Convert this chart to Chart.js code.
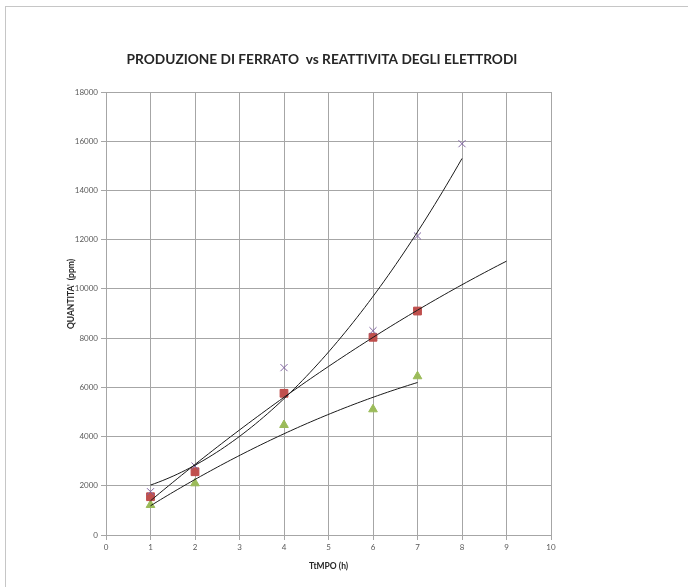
<!DOCTYPE html>
<html><head><meta charset="utf-8">
<script src="https://cdn.jsdelivr.net/npm/chart.js@4/dist/chart.umd.min.js"></script>
<style>
html,body{margin:0;padding:0;background:#fff;}
#wrap{position:relative;width:688px;height:587px;overflow:hidden;}
#frame{position:absolute;left:5px;top:6px;width:700px;height:600px;border:1px solid #c6c6c6;box-sizing:border-box;}
canvas{position:absolute;left:0;top:0;}
</style></head><body>
<div id="wrap"><div id="frame"></div><canvas id="c" width="688" height="587"></canvas></div>
<script>
// ---- data ----
const crossTimes = [1, 2, 4, 6, 7, 8];
const crossValues = [1760, 2800, 6800, 8300, 12150, 15900];
const squareTimes = [1, 2, 4, 6, 7];
const squareValues = [1556, 2570, 5757, 8033, 9100];
const triangleTimes = [1, 2, 4, 6, 7];
const triangleValues = [1220, 2100, 4470, 5107, 6450];
// trendline (2nd order polynomial) ranges
const crossTrendRange = [1, 8];
const squareTrendRange = [1, 9];
const triangleTrendRange = [1, 7];
const xTickValues = [0, 1, 2, 3, 4, 5, 6, 7, 8, 9, 10];
const yTickValues = [0, 2000, 4000, 6000, 8000, 10000, 12000, 14000, 16000, 18000];
const chartTitle = 'PRODUZIONE DI FERRATO  vs REATTIVITA DEGLI ELETTRODI';
const xTitle = 'TtMPO (h)';
const yTitle = "QUANTITA'  (ppm)";

// least-squares quadratic fit (Excel polynomial trendline)
function polyFit2(xs, ys) {
  let n = xs.length, s1 = 0, s2 = 0, s3 = 0, s4 = 0, t0 = 0, t1 = 0, t2 = 0;
  for (let i = 0; i < n; i++) {
    const x = xs[i], y = ys[i];
    s1 += x; s2 += x * x; s3 += x * x * x; s4 += x * x * x * x;
    t0 += y; t1 += x * y; t2 += x * x * y;
  }
  const M = [[n, s1, s2, t0], [s1, s2, s3, t1], [s2, s3, s4, t2]];
  for (let c = 0; c < 3; c++) {
    for (let r = c + 1; r < 3; r++) {
      const f = M[r][c] / M[c][c];
      for (let k = c; k < 4; k++) M[r][k] -= f * M[c][k];
    }
  }
  const coef = [0, 0, 0];
  for (let r = 2; r >= 0; r--) {
    let s = M[r][3];
    for (let k = r + 1; k < 3; k++) s -= M[r][k] * coef[k];
    coef[r] = s / M[r][r];
  }
  return coef;
}
function trendPoints(xs, ys, range) {
  const c = polyFit2(xs, ys);
  const pts = [];
  const steps = 80;
  for (let i = 0; i <= steps; i++) {
    const x = range[0] + (range[1] - range[0]) * i / steps;
    pts.push({x: x, y: c[0] + c[1] * x + c[2] * x * x});
  }
  return pts;
}
const toPts = (xs, ys) => xs.map((x, i) => ({x: x, y: ys[i]}));

const FONT = 'Lato, Carlito, Calibri, "Open Sans", sans-serif';

const textPlugin = {
  id: 'texts',
  afterDraw(chart) {
    const {ctx, chartArea} = chart;
    ctx.save();
    ctx.fillStyle = '#262626';
    ctx.textAlign = 'center';
    ctx.textBaseline = 'middle';
    ctx.font = 'bold 13.7px ' + FONT;
    ctx.fillText(chartTitle, 322, 60);
    ctx.translate(71, chartArea.top + chartArea.height * 0.456);
    ctx.rotate(-Math.PI / 2);
    ctx.font = 'bold 8.5px ' + FONT;
    ctx.fillText(yTitle, 0, 0);
    ctx.restore();
  }
};

new Chart(document.getElementById('c'), {
  type: 'scatter',
  data: {
    datasets: [
      {data: trendPoints(crossTimes, crossValues, crossTrendRange), showLine: true, borderColor: '#1a1a1a', borderWidth: 1, pointRadius: 0, fill: false},
      {data: trendPoints(squareTimes, squareValues, squareTrendRange), showLine: true, borderColor: '#1a1a1a', borderWidth: 1, pointRadius: 0, fill: false},
      {data: trendPoints(triangleTimes, triangleValues, triangleTrendRange), showLine: true, borderColor: '#1a1a1a', borderWidth: 1, pointRadius: 0, fill: false},
      {data: toPts(crossTimes, crossValues), pointStyle: 'crossRot', pointRadius: 5, borderColor: '#8064A2', backgroundColor: '#8064A2', pointBorderWidth: 1},
      {data: toPts(squareTimes, squareValues), pointStyle: 'rect', pointRadius: 5.5, borderColor: '#BE4B48', backgroundColor: '#C0504D', pointBorderWidth: 1},
      {data: toPts(triangleTimes, triangleValues), pointStyle: 'triangle', pointRadius: 5, borderColor: '#9BBB59', backgroundColor: '#9BBB59', pointBorderWidth: 1}
    ]
  },
  options: {
    responsive: false,
    animation: false,
    devicePixelRatio: 1,
    layout: {padding: {left: 0, right: 137, top: 92, bottom: 0}},
    plugins: {legend: {display: false}, tooltip: {enabled: false}, title: {display: false}},
    scales: {
      x: {
        type: 'linear', min: 0, max: 10,
        afterBuildTicks(s) { s.ticks = xTickValues.map(v => ({value: v})); },
        ticks: {font: {family: FONT, size: 8}, color: '#595959', padding: 3, maxRotation: 0, callback: v => String(v)},
        grid: {color: '#a6a6a6', tickLength: 5, drawTicks: true, lineWidth: 1},
        border: {color: '#a6a6a6'},
        title: {display: true, text: xTitle, font: {family: FONT, size: 8.5, weight: 'bold'}, color: '#262626', padding: {top: 0, bottom: 16}},
        afterFit(s) { s.height = 52; }
      },
      y: {
        type: 'linear', min: 0, max: 18000,
        afterBuildTicks(s) { s.ticks = yTickValues.map(v => ({value: v})); },
        ticks: {font: {family: FONT, size: 8}, color: '#595959', padding: 3, callback: v => String(v)},
        grid: {color: '#a6a6a6', tickLength: 5, drawTicks: true, lineWidth: 1},
        border: {color: '#a6a6a6'},
        afterFit(s) { s.width = 106; }
      }
    }
  },
  plugins: [textPlugin]
});
</script>
</body></html>
